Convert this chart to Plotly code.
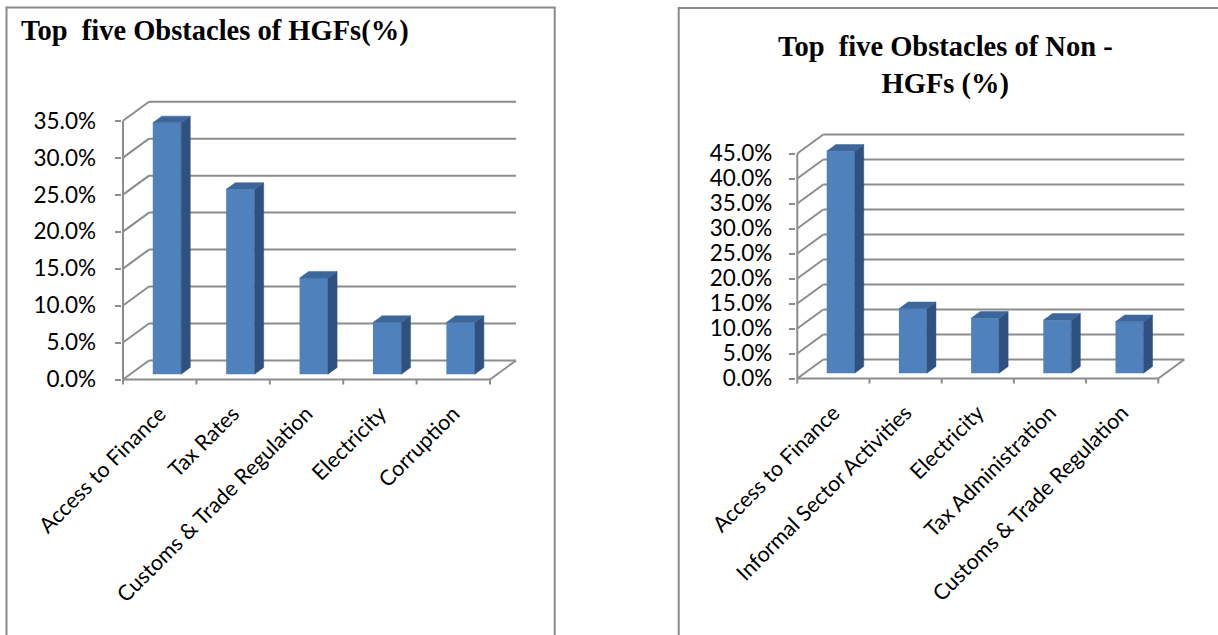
import plotly.graph_objects as go

# ---- data -------------------------------------------------------------
hgf_categories = ["Access to Finance", "Tax Rates", "Customs & Trade Regulation",
                  "Electricity", "Corruption"]
hgf_values = [34.0, 25.0, 13.0, 7.0, 7.0]
hgf_ticks = [0, 5, 10, 15, 20, 25, 30, 35]

non_hgf_categories = ["Access to Finance", "Informal Sector Activities", "Electricity",
                      "Tax Administration", "Customs & Trade Regulation"]
non_hgf_values = [44.4, 12.9, 11.0, 10.6, 10.3]
non_hgf_ticks = [0, 5, 10, 15, 20, 25, 30, 35, 40, 45]

hgf_title = "Top\u00a0 five Obstacles of HGFs(%)"
non_hgf_title = "Top\u00a0 five Obstacles of Non -<br>HGFs (%)"

# ---- page / style -----------------------------------------------------
W, H = 1218, 635
GRID = "#8C8C8C"
FRONT = "#4F81BD"
TOP = "#3D679B"
SIDE = "#2F5180"
TICK_FONT = dict(family="Lato, Carlito, Arial", size=22.5, color="black")
CAT_FONT = dict(family="Lato, Carlito, Arial", size=21.5, color="black")
TITLE_FONT = dict(family="Liberation Serif, Times New Roman, serif", size=28.5, color="black")

DEPTH_PX = (26.0, -19.0)      # screen offset from front plane to back wall
BAR_T0, BAR_T1 = 0.28, 0.63  # bar depth span (fraction of floor depth)
BAR_W = 0.387                # bar width in category units

panels = [
    dict(cats=hgf_categories, vals=hgf_values, ticks=hgf_ticks,
         ax0=123.0, cw=73.4, y0=379.5, ppp=7.394, box=(121.5, 98, 522, 386),
         xa="x", ya="y", ystand=14),
    dict(cats=non_hgf_categories, vals=non_hgf_values, ticks=non_hgf_ticks,
         ax0=797.3, cw=72.2, y0=378.5, ppp=5.0, box=(795.8, 128, 1188, 385),
         xa="x2", ya="y2", ystand=12),
]

fig = go.Figure()
shapes = []

for k, p in enumerate(panels):
    L, T, R, B = p["box"]
    n = len(p["cats"])
    xr = [-0.5 - (p["ax0"] - L) / p["cw"], -0.5 + (R - p["ax0"]) / p["cw"]]
    yr = [-(B - p["y0"]) / p["ppp"], (p["y0"] - T) / p["ppp"]]
    DX = DEPTH_PX[0] / p["cw"]
    DY = -DEPTH_PX[1] / p["ppp"]
    sfx = "" if k == 0 else "2"

    fig.update_layout(**{
        "xaxis" + sfx: dict(domain=[L / W, R / W], range=xr, anchor="y" + sfx,
                            tickvals=list(range(n)), ticktext=p["cats"],
                            tickangle=-45, ticks="", ticklabelstandoff=10,
                            showgrid=False, zeroline=False, automargin=False,
                            showline=False, tickfont=CAT_FONT, fixedrange=True),
        "yaxis" + sfx: dict(domain=[1 - B / H, 1 - T / H], range=yr, anchor="x" + sfx,
                            tickvals=p["ticks"],
                            ticktext=[f"{t:.1f}%" for t in p["ticks"]],
                            ticks="outside", ticklen=6, tickwidth=2, tickcolor=GRID,
                            ticklabelstandoff=p["ystand"], automargin=False,
                            showgrid=False, zeroline=False, showline=False,
                            tickfont=TICK_FONT, fixedrange=True),
    })

    x_lo, x_hi = -0.5, n - 0.5
    top = p["ticks"][-1]
    line = dict(color=GRID, width=2)

    def seg(x0, y0, x1, y1):
        shapes.append(dict(type="line", xref=p["xa"], yref=p["ya"], layer="below",
                           x0=x0, y0=y0, x1=x1, y1=y1, line=line))

    # back wall gridlines plus their slanted side-wall links
    for t in p["ticks"]:
        seg(x_lo, t, x_lo + DX, t + DY)
        seg(x_lo + DX, t + DY, x_hi + DX, t + DY)
    # front axes and floor edge
    seg(x_lo, 0, x_lo, top)
    seg(x_lo, 0, x_hi, 0)
    seg(x_hi, 0, x_hi + DX, DY)
    # category boundary ticks
    for b in range(n + 1):
        seg(b - 0.5, 0, b - 0.5, -5.0 / p["ppp"])

    # bars: front faces
    base = BAR_T0 * DY
    xs = [i + BAR_T0 * DX for i in range(n)]
    fig.add_trace(go.Bar(x=xs, y=p["vals"], base=[base] * n, width=BAR_W,
                         marker=dict(color=FRONT, line=dict(width=0)),
                         xaxis=p["xa"], yaxis=p["ya"], showlegend=False,
                         hoverinfo="skip"))

    # bars: side and top faces
    dd = BAR_T1 - BAR_T0
    sx, sy = [], []
    tx, ty = [], []
    for c, v in zip(xs, p["vals"]):
        left, right = c - BAR_W / 2, c + BAR_W / 2
        sx += [right, right + dd * DX, right + dd * DX, right, right, None]
        sy += [base, base + dd * DY, base + v + dd * DY, base + v, base, None]
        tx += [left, right, right + dd * DX, left + dd * DX, left, None]
        ty += [base + v, base + v, base + v + dd * DY, base + v + dd * DY, base + v, None]
    fig.add_trace(go.Scatter(x=sx, y=sy, mode="lines", fill="toself", fillcolor=SIDE,
                             line=dict(width=0.5, color=SIDE), xaxis=p["xa"], yaxis=p["ya"],
                             showlegend=False, hoverinfo="skip"))
    fig.add_trace(go.Scatter(x=tx, y=ty, mode="lines", fill="toself", fillcolor=TOP,
                             line=dict(width=0.5, color=TOP), xaxis=p["xa"], yaxis=p["ya"],
                             showlegend=False, hoverinfo="skip"))

# chart frames
shapes.append(dict(type="rect", xref="paper", yref="paper",
                   x0=6.5 / W, x1=554.7 / W, y0=1 - 700 / H, y1=1 - 7.5 / H,
                   line=dict(color="#8A8A8A", width=2), layer="below"))
shapes.append(dict(type="rect", xref="paper", yref="paper",
                   x0=678.7 / W, x1=1260 / W, y0=1 - 700 / H, y1=1 - 8 / H,
                   line=dict(color="#8A8A8A", width=2), layer="below"))

annotations = [
    dict(text="<b>" + hgf_title + "</b>", xref="paper", yref="paper",
         x=19 / W, y=1 - 31 / H, xanchor="left", yanchor="middle",
         showarrow=False, font=TITLE_FONT),
    dict(text="<b>" + non_hgf_title + "</b>", xref="paper", yref="paper",
         x=945 / W, y=1 - 65 / H, xanchor="center", yanchor="middle",
         showarrow=False, font=TITLE_FONT, align="center"),
]

fig.update_layout(width=W, height=H, margin=dict(l=0, r=0, t=0, b=0, autoexpand=False),
                  paper_bgcolor="white", plot_bgcolor="rgba(0,0,0,0)",
                  shapes=shapes, annotations=annotations, barmode="overlay",
                  showlegend=False)

fig.write_html("out.html", config={"displayModeBar": False})
